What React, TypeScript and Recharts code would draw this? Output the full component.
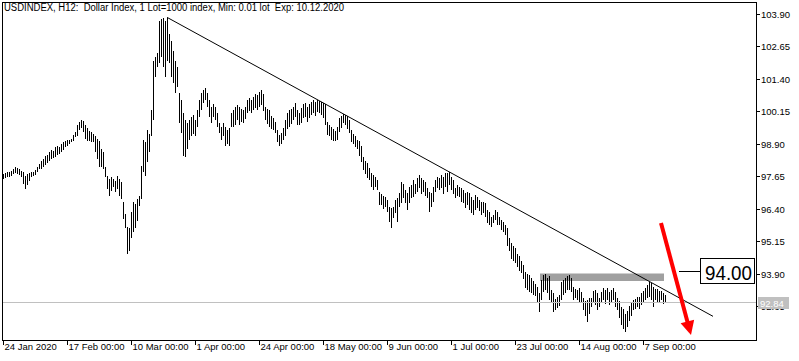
import React from "react";
import {
  ComposedChart,
  Bar,
  XAxis,
  YAxis,
  ReferenceLine,
  ReferenceArea,
} from "recharts";

// USDINDEX H12, one entry per bar (high / low), 24 Jan 2020 .. mid Sep 2020
const highs = [
  97.74, 97.78, 97.82, 97.82, 97.86, 97.93, 98.01, 97.97, 97.93, 97.86,
  97.82, 97.67, 97.74, 97.78, 97.82, 97.82, 97.89, 98.01, 98.12,
  98.23, 98.31, 98.42, 98.47, 98.58, 98.65, 98.62, 98.77, 98.81, 98.77, 98.88, 98.96,
  99.0, 99.04, 99.07, 99.11, 99.26, 99.37, 99.64, 99.75, 99.83,
  99.79, 99.64, 99.53, 99.41, 99.37, 99.3, 99.22, 99.11, 99.0,
  98.69, 98.58, 98.01, 97.67, 97.55, 97.63, 97.55, 97.48,
  97.67, 97.55, 97.44, 96.68, 96.22, 95.72, 95.65, 96.3, 96.68, 96.6, 96.79, 96.9,
  98.04, 99.07, 98.96, 99.45, 99.3, 100.21, 102.11, 102.23, 102.38, 103.63, 103.71, 103.75,
  103.63, 103.75, 103.14, 102.87, 102.49, 102.11, 101.85, 100.86, 100.59, 100.1,
  99.83, 99.72, 99.83, 99.94, 100.02, 99.83, 100.21, 100.59, 100.86, 100.97,
  101.05, 100.86, 100.59, 100.33, 100.45, 100.33, 100.1, 99.72, 99.56, 99.72, 99.56,
  99.45, 99.53, 100.1, 100.21, 100.33, 100.41, 100.33, 100.25, 100.21, 100.33,
  100.59, 100.67, 100.59, 100.71, 100.83, 100.79, 100.9, 100.97, 100.83, 100.33,
  100.25, 100.21, 99.98, 99.91, 99.75, 99.45, 99.26, 99.34, 99.53, 99.83,
  100.1, 100.21, 100.25, 100.33, 100.48, 100.21, 100.1, 100.29, 100.45, 100.48,
  100.33, 100.45, 100.52, 100.59, 100.52, 100.6, 100.56, 100.52, 100.47, 100.43,
  99.75, 99.64, 99.56, 99.49, 99.41, 99.56, 99.91, 99.98, 100.06, 100.02,
  99.98, 99.83, 99.45, 99.3, 99.19, 99.07, 99.0, 98.81,
  98.38, 98.24, 98.16, 97.97, 97.78, 97.7, 97.63, 97.51, 97.06, 96.98, 96.9, 96.86, 96.75, 96.48, 96.45, 96.48,
  96.75, 96.83, 97.02, 97.44, 97.36, 97.13, 97.02, 97.25, 97.32, 97.51, 97.36, 97.59, 97.7, 97.59, 97.51, 97.44,
  97.21, 97.06, 97.02, 97.25, 97.51, 97.63, 97.59, 97.7, 97.63, 97.78, 97.78, 97.82, 97.63, 97.51,
  97.21, 97.32, 97.25, 97.21, 97.13, 97.02, 97.06, 97.02, 96.86, 96.75, 96.94, 96.86, 96.75, 96.67,
  96.65, 96.62, 96.35, 96.27, 96.08, 96.16, 96.35, 96.27, 96.08, 95.97, 95.89, 95.78, 95.66, 95.28, 95.09, 94.98, 94.9, 94.68, 94.6, 94.41,
  94.23, 93.97, 93.89, 93.85, 93.74, 93.62, 93.51, 93.4, 93.17, 93.66, 93.85, 93.91, 93.74, 93.81, 93.28, 93.17, 92.94, 93.01, 93.09,
  93.59, 93.66, 93.74, 93.81, 93.85, 93.74, 93.4, 93.32, 93.28, 93.36, 93.21, 92.98, 92.86, 92.9, 92.98, 92.98, 93.24, 93.28, 93.17, 92.98, 93.21,
  93.36, 93.28, 93.36, 93.21, 93.28, 93.36, 93.21, 92.98, 92.86, 92.63, 92.56, 92.37, 92.48, 92.67, 92.82, 92.9,
  92.94, 93.01, 93.01, 93.17, 93.24, 93.36, 93.47, 93.59, 93.55, 93.4, 93.32, 93.32, 93.24, 93.24, 93.17, 93.09,
];

const lows = [
  97.55, 97.59, 97.63, 97.63, 97.67, 97.74, 97.78, 97.74, 97.7, 97.63,
  97.36, 97.17, 97.32, 97.48, 97.63, 97.67, 97.7, 97.82, 97.93,
  97.93, 98.01, 98.08, 98.16, 98.24, 98.31, 98.35, 98.39, 98.47, 98.51, 98.58, 98.66,
  98.77, 98.81, 98.88, 98.96, 99.0, 99.15, 99.19, 99.45, 99.53,
  99.37, 99.11, 99.0, 99.0, 98.96, 98.96, 98.58, 98.31, 98.01,
  98.01, 97.93, 97.63, 97.17, 96.9, 97.1, 97.25, 97.06,
  97.17, 96.9, 96.79, 96.03, 95.65, 94.66, 94.78, 95.27, 95.53, 95.65, 95.92, 96.52,
  96.79, 97.82, 97.67, 98.2, 98.58, 99.19, 99.83, 101.46, 101.85, 102.0, 102.23, 101.85,
  101.46, 102.11, 102.0, 101.46, 101.24, 100.86, 101.09, 99.72, 99.34, 98.42,
  98.39, 98.69, 99.07, 99.19, 99.3, 99.19, 99.56, 99.94, 100.21, 100.48,
  100.59, 100.33, 99.94, 99.72, 99.94, 99.83, 99.56, 99.34, 99.07, 99.19, 98.81,
  98.88, 98.81, 99.56, 99.56, 99.64, 99.83, 99.64, 99.75, 99.72, 99.87,
  100.1, 100.17, 100.1, 100.21, 100.29, 100.21, 100.33, 100.41, 100.17, 99.83,
  99.68, 99.56, 99.49, 99.45, 99.34, 98.96, 98.81, 98.88, 99.07, 99.19,
  99.49, 99.56, 99.68, 99.83, 99.94, 99.64, 99.64, 99.72, 99.91, 99.94,
  99.75, 99.91, 100.02, 100.1, 99.98, 100.14, 100.1, 100.02, 99.91, 99.64,
  99.26, 99.19, 99.07, 99.0, 99.0, 99.07, 99.37, 99.53, 99.72, 99.64,
  99.49, 99.34, 98.96, 98.88, 98.77, 98.69, 98.42, 98.2,
  97.89, 97.74, 97.59, 97.51, 97.25, 97.13, 97.25, 97.13, 96.56, 96.56, 96.41, 96.48, 96.29, 95.88, 95.68, 96.06,
  96.26, 95.91, 96.48, 96.64, 96.83, 96.64, 96.37, 96.64, 96.83, 96.86, 96.98, 97.06, 97.21, 96.98, 97.06, 96.9,
  96.83, 96.29, 96.48, 96.67, 97.06, 97.21, 97.13, 97.21, 96.98, 97.25, 97.06, 97.32, 97.13, 96.98,
  96.83, 96.9, 96.86, 96.67, 96.64, 96.45, 96.56, 96.37, 96.26, 96.18, 96.37, 96.45, 96.33, 96.18,
  96.24, 96.08, 95.86, 95.78, 95.7, 95.86, 95.97, 95.78, 95.78, 95.59, 95.51, 95.4, 94.98, 94.79, 94.49, 94.41, 94.34, 94.15, 94.03, 93.92,
  93.7, 93.36, 93.28, 93.21, 93.17, 93.09, 93.05, 92.78, 92.44, 92.9, 93.21, 93.28, 93.17, 92.9, 92.78, 92.44, 92.52, 92.59, 92.67,
  92.9, 93.09, 93.17, 93.28, 93.28, 93.21, 92.9, 92.98, 92.9, 92.78, 92.82, 92.52, 92.29, 92.06, 92.37, 92.63, 92.78, 92.71, 92.52, 92.63, 92.82,
  92.9, 92.75, 92.9, 92.71, 92.82, 92.9, 92.63, 92.52, 92.22, 91.95, 91.8, 91.68, 91.87, 92.1, 92.29, 92.52,
  92.56, 92.63, 92.56, 92.71, 92.78, 92.9, 92.98, 93.01, 92.9, 92.63, 92.9, 92.78, 92.82, 92.9, 92.75, 92.8,
];

const dateBars = [0, 32, 64, 96, 128, 160, 192, 224, 256, 288, 320];
const dateLabels = [
  "24 Jan 2020", "17 Feb 00:00", "10 Mar 00:00", "1 Apr 00:00", "24 Apr 00:00",
  "18 May 00:00", "9 Jun 00:00", "1 Jul 00:00", "23 Jul 00:00", "14 Aug 00:00", "7 Sep 00:00",
];
const priceTicks = [92.65, 93.9, 95.15, 96.4, 97.65, 98.9, 100.15, 101.4, 102.65, 103.9];

const title =
  "USDINDEX, H12:  Dollar Index, 1 Lot=1000 index, Min: 0.01 lot  Exp: 10.12.2020";
const lastPrice = 92.84;
const level = 94.0;
const zone = { from: 269, to: 330, low: 93.63, high: 93.92 };
const trend = [{ x: 82, y: 103.77 }, { x: 355, y: 92.27 }];
const arrow = [{ x: 329, y: 95.86 }, { x: 344, y: 91.55 }];
const callout = [{ x: 338, y: level }, { x: 349, y: level }];
const slots = 377; // bars + empty space on the right (chart shift)

const data = Array.from({ length: slots }, (_, i) =>
  i < highs.length ? { i, range: [lows[i], highs[i]] } : { i }
);

const FONT = "'Liberation Sans', Arial, sans-serif";
const PLOT_RIGHT = 756;
const PLOT_BOTTOM = 340;

const HlBar = (p: any) => {
  if (p.y == null || isNaN(p.y) || !p.height) return null;
  const top = Math.round(Math.min(p.y, p.y + p.height));
  const bot = Math.round(Math.max(p.y, p.y + p.height));
  return <rect x={Math.round(p.x)} y={top} width={1} height={Math.max(1, bot - top)} fill="#000" />;
};

const DateTick = (p: any) => {
  const x = Math.round(p.x) + 0.5;
  const idx = dateBars.indexOf(p.payload.value);
  return (
    <g>
      <line x1={x} y1={PLOT_BOTTOM} x2={x} y2={PLOT_BOTTOM + 5} stroke="#000" />
      <text x={x + 1} y={350} fontSize={9.5} fontFamily={FONT} fill="#000">
        {dateLabels[idx]}
      </text>
    </g>
  );
};

// regular price ticks, plus the current price drawn last as a grey tag on top
const PriceTick = (p: any) => {
  const y = Math.round(p.y) + 0.5;
  const v = Number(p.payload.value);
  if (v === lastPrice) {
    return (
      <g>
        <rect x={PLOT_RIGHT + 2} y={y - 5.5} width={31} height={12} fill="#c0c0c0" />
        <text x={PLOT_RIGHT + 4} y={y + 4} fontSize={9.5} fontFamily={FONT} fill="#fff">
          {v.toFixed(2)}
        </text>
      </g>
    );
  }
  return (
    <g>
      <line x1={PLOT_RIGHT} y1={y} x2={PLOT_RIGHT + 4} y2={y} stroke="#000" />
      <text x={PLOT_RIGHT + 5} y={y + 3} fontSize={9.5} fontFamily={FONT} fill="#000">
        {v.toFixed(2)}
      </text>
    </g>
  );
};

const PriceLine = (p: any) => {
  const y = Math.round(p.y1) + 0.5;
  return <line x1={Math.min(p.x1, p.x2)} y1={y} x2={Math.max(p.x1, p.x2)} y2={y} stroke="#c0c0c0" />;
};

const TrendLine = (p: any) => (
  <line x1={p.x1} y1={p.y1} x2={p.x2} y2={p.y2} stroke="#000" strokeWidth={1} />
);

const Callout = (p: any) => {
  const y = Math.round(p.y1) + 0.5;
  const left = Math.min(p.x1, p.x2);
  const right = Math.max(p.x1, p.x2);
  return (
    <g>
      <line x1={left} y1={y} x2={right} y2={y} stroke="#000" />
      <rect x={right - 0.5} y={y - 13} width={54} height={25} fill="#fff" stroke="#000" />
      <text x={right + 4} y={y + 8} fontSize={20} fontFamily={FONT} fill="#000" textLength={47} lengthAdjust="spacingAndGlyphs">
        {level.toFixed(2)}
      </text>
    </g>
  );
};

const Arrow = (p: any) => {
  const dx = p.x2 - p.x1;
  const dy = p.y2 - p.y1;
  const len = Math.hypot(dx, dy) || 1;
  const ux = dx / len;
  const uy = dy / len;
  const head = 14;
  const half = 7;
  const bx = p.x2 - ux * head;
  const by = p.y2 - uy * head;
  return (
    <g>
      <line x1={p.x1} y1={p.y1} x2={bx + ux} y2={by + uy} stroke="#ff0000" strokeWidth={4} />
      <polygon
        points={`${p.x2},${p.y2} ${bx - uy * half},${by + ux * half} ${bx + uy * half},${by - ux * half}`}
        fill="#ff0000"
      />
    </g>
  );
};

export default function App() {
  return (
    <div style={{ position: "absolute", left: 0, top: 0, width: 799, height: 361, background: "#fff" }}>
      <ComposedChart
        width={799}
        height={361}
        data={data}
        margin={{ top: 2, right: 0, bottom: 0, left: 2 }}
        barCategoryGap={0}
      >
        <XAxis
          dataKey="i"
          type="category"
          height={21}
          ticks={dateBars}
          interval={0}
          axisLine={false}
          tickLine={false}
          tick={<DateTick />}
        />
        <YAxis
          orientation="right"
          width={43}
          domain={[91.36, 104.36]}
          allowDataOverflow
          ticks={[...priceTicks, lastPrice]}
          interval={0}
          axisLine={false}
          tickLine={false}
          tick={<PriceTick />}
        />
        <ReferenceArea
          x1={zone.from}
          x2={zone.to}
          y1={zone.low}
          y2={zone.high}
          fill="#a0a0a0"
          fillOpacity={1}
          stroke="none"
        />
        <Bar dataKey="range" barSize={1} shape={<HlBar />} isAnimationActive={false} />
        <ReferenceLine y={lastPrice} shape={<PriceLine />} />
        <ReferenceLine segment={trend} shape={<TrendLine />} />
        <ReferenceLine segment={callout} shape={<Callout />} />
        <ReferenceLine segment={arrow} shape={<Arrow />} />
      </ComposedChart>
      <svg
        width={799}
        height={361}
        style={{ position: "absolute", left: 0, top: 0, pointerEvents: "none" }}
      >
        <rect x={2.5} y={2.5} width={754} height={338} fill="none" stroke="#000" />
        <text
          x={4}
          y={11}
          fontSize={10}
          fontFamily={FONT}
          fill="#000"
          textLength={340}
          lengthAdjust="spacingAndGlyphs"
          style={{ whiteSpace: "pre" }}
        >
          {title}
        </text>
      </svg>
    </div>
  );
}
